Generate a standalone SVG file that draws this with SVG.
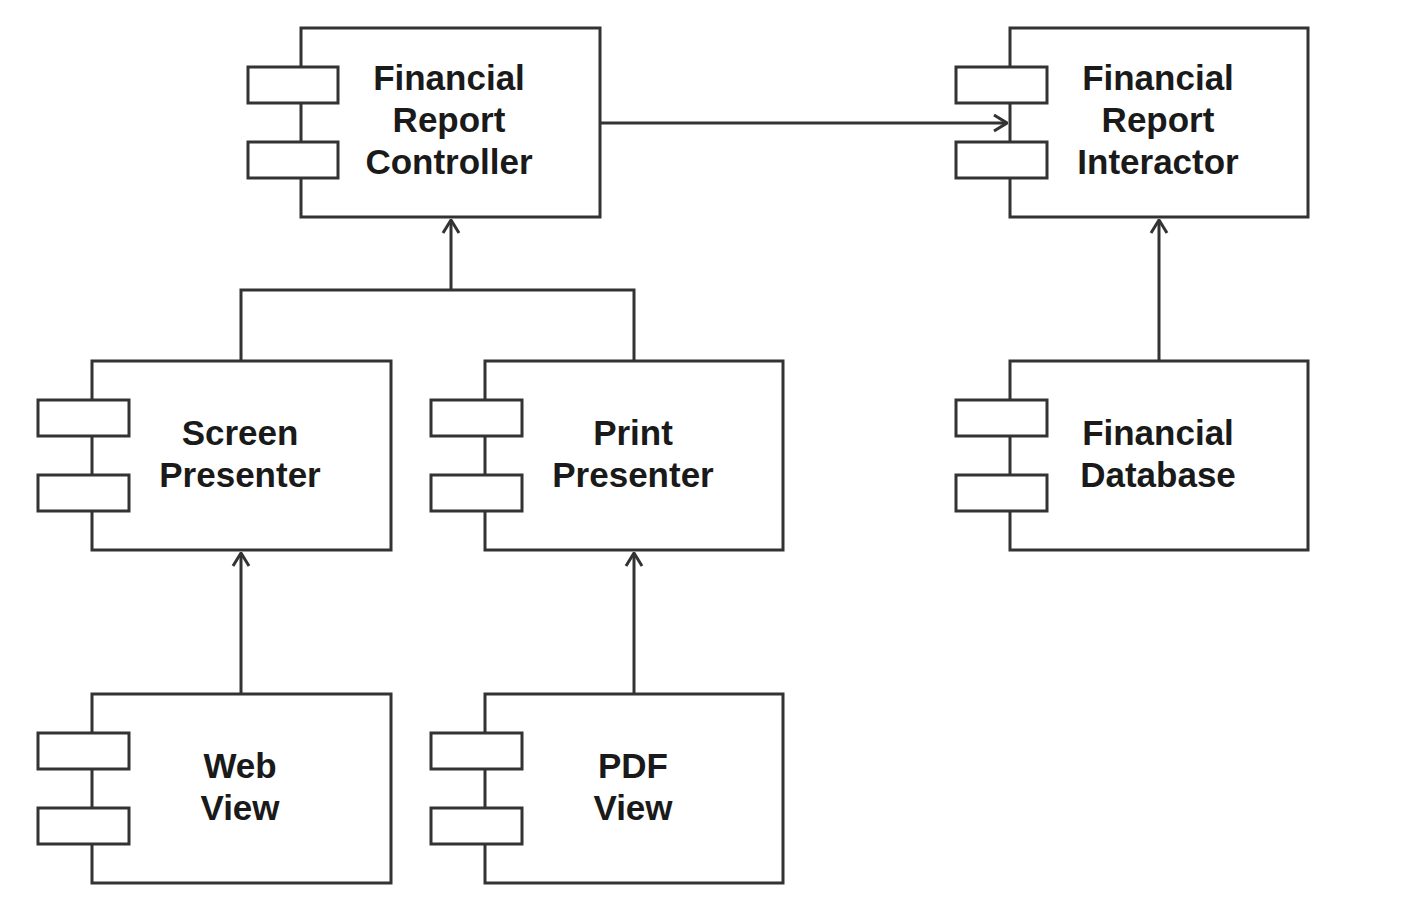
<svg xmlns="http://www.w3.org/2000/svg" width="1402" height="908" viewBox="0 0 1402 908">
<style>
.box{fill:#fff;stroke:#333;stroke-width:3}
.tab{fill:#fff;stroke:#333;stroke-width:3}
.lbl{font-family:"Liberation Sans",Arial,sans-serif;font-weight:bold;font-size:35px;fill:#1a1a1a;text-anchor:middle}
.con{fill:none;stroke:#333;stroke-width:3}
</style>
<defs>
<marker id="arr" viewBox="0 0 15 20" refX="14" refY="10" markerWidth="15" markerHeight="20" markerUnits="userSpaceOnUse" orient="auto">
<path d="M1,2 L14,10 L1,18" fill="none" stroke="#333" stroke-width="3"/>
</marker>
</defs>
<rect width="1402" height="908" fill="#fff"/>
<g id="connectors">
<path class="con" d="M600,123 H1007" marker-end="url(#arr)"/>
<path class="con" d="M241,361 V290 H634 V361"/>
<path class="con" d="M451,290 V220" marker-end="url(#arr)"/>
<path class="con" d="M241,694 V553" marker-end="url(#arr)"/>
<path class="con" d="M634,694 V553" marker-end="url(#arr)"/>
<path class="con" d="M1159,361 V220" marker-end="url(#arr)"/>
</g>
<g id="controller">
<rect class="box" x="301" y="28" width="299" height="189"/>
<rect class="tab" x="248" y="67" width="90" height="36"/>
<rect class="tab" x="248" y="142" width="90" height="36"/>
<text class="lbl" x="449" y="90">Financial</text>
<text class="lbl" x="449" y="132">Report</text>
<text class="lbl" x="449" y="174">Controller</text>
</g>
<g id="interactor">
<rect class="box" x="1010" y="28" width="298" height="189"/>
<rect class="tab" x="956" y="67" width="91" height="36"/>
<rect class="tab" x="956" y="142" width="91" height="36"/>
<text class="lbl" x="1158" y="90">Financial</text>
<text class="lbl" x="1158" y="132">Report</text>
<text class="lbl" x="1158" y="174">Interactor</text>
</g>
<g id="screen-presenter">
<rect class="box" x="92" y="361" width="299" height="189"/>
<rect class="tab" x="38" y="400" width="91" height="36"/>
<rect class="tab" x="38" y="475" width="91" height="36"/>
<text class="lbl" x="240" y="445">Screen</text>
<text class="lbl" x="240" y="487">Presenter</text>
</g>
<g id="print-presenter">
<rect class="box" x="485" y="361" width="298" height="189"/>
<rect class="tab" x="431" y="400" width="91" height="36"/>
<rect class="tab" x="431" y="475" width="91" height="36"/>
<text class="lbl" x="633" y="445">Print</text>
<text class="lbl" x="633" y="487">Presenter</text>
</g>
<g id="database">
<rect class="box" x="1010" y="361" width="298" height="189"/>
<rect class="tab" x="956" y="400" width="91" height="36"/>
<rect class="tab" x="956" y="475" width="91" height="36"/>
<text class="lbl" x="1158" y="445">Financial</text>
<text class="lbl" x="1158" y="487">Database</text>
</g>
<g id="web-view">
<rect class="box" x="92" y="694" width="299" height="189"/>
<rect class="tab" x="38" y="733" width="91" height="36"/>
<rect class="tab" x="38" y="808" width="91" height="36"/>
<text class="lbl" x="240" y="778">Web</text>
<text class="lbl" x="240" y="820">View</text>
</g>
<g id="pdf-view">
<rect class="box" x="485" y="694" width="298" height="189"/>
<rect class="tab" x="431" y="733" width="91" height="36"/>
<rect class="tab" x="431" y="808" width="91" height="36"/>
<text class="lbl" x="633" y="778">PDF</text>
<text class="lbl" x="633" y="820">View</text>
</g>
</svg>
